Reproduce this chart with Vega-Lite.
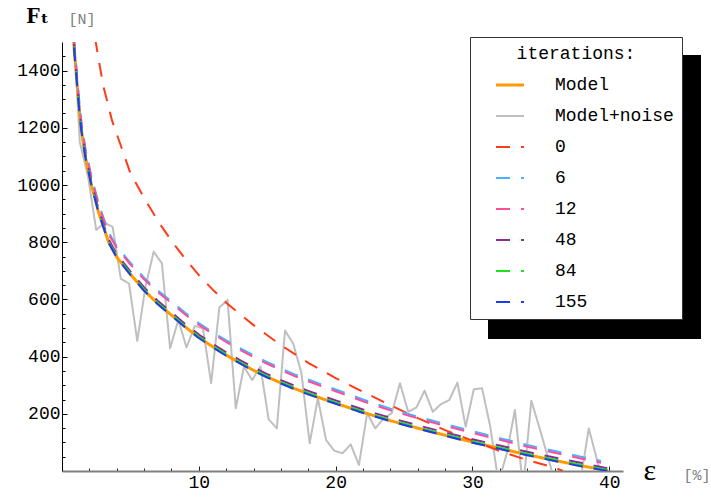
{
  "$schema": "https://vega.github.io/schema/vega-lite/v6.json",
  "width": 561,
  "height": 429,
  "autosize": "none",
  "padding": {"left": 62, "top": 42, "right": 88, "bottom": 27},
  "background": "white",
  "config": {
    "view": {"stroke": null},
    "font": "Liberation Mono, DejaVu Sans Mono, monospace",
    "axis": {"grid": false}
  },
  "datasets": {
    "curves": [
      {"s": "Model+noise", "x": 0.7, "F": 1690}, {"s": "Model+noise", "x": 1.3, "F": 1150}, {"s": "Model+noise", "x": 1.9, "F": 1030}, {"s": "Model+noise", "x": 2.5, "F": 843}, {"s": "Model+noise", "x": 3.1, "F": 868}, {"s": "Model+noise", "x": 3.7, "F": 854}, {"s": "Model+noise", "x": 4.3, "F": 672}, {"s": "Model+noise", "x": 4.9, "F": 655}, {"s": "Model+noise", "x": 5.5, "F": 455}, {"s": "Model+noise", "x": 6.1, "F": 644}, {"s": "Model+noise", "x": 6.7, "F": 767}, {"s": "Model+noise", "x": 7.3, "F": 726}, {"s": "Model+noise", "x": 7.9, "F": 429}, {"s": "Model+noise", "x": 8.5, "F": 528}, {"s": "Model+noise", "x": 9.1, "F": 432}, {"s": "Model+noise", "x": 9.7, "F": 507}, {"s": "Model+noise", "x": 10.3, "F": 499}, {"s": "Model+noise", "x": 10.9, "F": 307}, {"s": "Model+noise", "x": 11.5, "F": 572}, {"s": "Model+noise", "x": 12.1, "F": 598}, {"s": "Model+noise", "x": 12.7, "F": 219}, {"s": "Model+noise", "x": 13.3, "F": 365}, {"s": "Model+noise", "x": 13.9, "F": 318}, {"s": "Model+noise", "x": 14.5, "F": 365}, {"s": "Model+noise", "x": 15.1, "F": 181}, {"s": "Model+noise", "x": 15.7, "F": 149}, {"s": "Model+noise", "x": 16.3, "F": 491}, {"s": "Model+noise", "x": 16.9, "F": 445}, {"s": "Model+noise", "x": 17.5, "F": 342}, {"s": "Model+noise", "x": 18.1, "F": 97}, {"s": "Model+noise", "x": 18.7, "F": 254}, {"s": "Model+noise", "x": 19.3, "F": 108}, {"s": "Model+noise", "x": 19.9, "F": 71}, {"s": "Model+noise", "x": 20.5, "F": 62}, {"s": "Model+noise", "x": 21.1, "F": 93}, {"s": "Model+noise", "x": 21.7, "F": 21}, {"s": "Model+noise", "x": 22.3, "F": 202}, {"s": "Model+noise", "x": 22.9, "F": 149}, {"s": "Model+noise", "x": 23.5, "F": 184}, {"s": "Model+noise", "x": 24.1, "F": 202}, {"s": "Model+noise", "x": 24.7, "F": 307}, {"s": "Model+noise", "x": 25.3, "F": 207}, {"s": "Model+noise", "x": 25.9, "F": 222}, {"s": "Model+noise", "x": 26.5, "F": 281}, {"s": "Model+noise", "x": 27.1, "F": 207}, {"s": "Model+noise", "x": 27.7, "F": 234}, {"s": "Model+noise", "x": 28.3, "F": 248}, {"s": "Model+noise", "x": 28.9, "F": 309}, {"s": "Model+noise", "x": 29.5, "F": 155}, {"s": "Model+noise", "x": 30.1, "F": 286}, {"s": "Model+noise", "x": 30.7, "F": 289}, {"s": "Model+noise", "x": 31.3, "F": 155}, {"s": "Model+noise", "x": 31.9, "F": -40}, {"s": "Model+noise", "x": 32.5, "F": 60}, {"s": "Model+noise", "x": 33.1, "F": 213}, {"s": "Model+noise", "x": 33.7, "F": -60}, {"s": "Model+noise", "x": 34.3, "F": 246}, {"s": "Model+noise", "x": 34.9, "F": 150}, {"s": "Model+noise", "x": 35.5, "F": 50}, {"s": "Model+noise", "x": 36.1, "F": -50}, {"s": "Model+noise", "x": 36.7, "F": -90}, {"s": "Model+noise", "x": 37.3, "F": -70}, {"s": "Model+noise", "x": 37.9, "F": -30}, {"s": "Model+noise", "x": 38.5, "F": 149}, {"s": "Model+noise", "x": 39.1, "F": 39}, {"s": "Model+noise", "x": 39.7, "F": -71},

      {"s": "Model", "x": 0.75, "F": 1570}, {"s": "Model", "x": 0.85, "F": 1500}, {"s": "Model", "x": 0.93, "F": 1450}, {"s": "Model", "x": 1.02, "F": 1400}, {"s": "Model", "x": 1.2, "F": 1295}, {"s": "Model", "x": 1.39, "F": 1200}, {"s": "Model", "x": 1.7, "F": 1100}, {"s": "Model", "x": 2.15, "F": 1000}, {"s": "Model", "x": 2.7, "F": 900}, {"s": "Model", "x": 3.41, "F": 800}, {"s": "Model", "x": 4, "F": 748}, {"s": "Model", "x": 5, "F": 688}, {"s": "Model", "x": 6, "F": 632}, {"s": "Model", "x": 7, "F": 585}, {"s": "Model", "x": 8, "F": 545}, {"s": "Model", "x": 9, "F": 504}, {"s": "Model", "x": 10, "F": 467}, {"s": "Model", "x": 11, "F": 435}, {"s": "Model", "x": 12, "F": 405}, {"s": "Model", "x": 13, "F": 378}, {"s": "Model", "x": 14, "F": 352}, {"s": "Model", "x": 15, "F": 329}, {"s": "Model", "x": 16, "F": 308}, {"s": "Model", "x": 17, "F": 288}, {"s": "Model", "x": 18, "F": 270}, {"s": "Model", "x": 19, "F": 253}, {"s": "Model", "x": 20, "F": 237}, {"s": "Model", "x": 22, "F": 205}, {"s": "Model", "x": 24, "F": 176}, {"s": "Model", "x": 26, "F": 150}, {"s": "Model", "x": 28, "F": 125}, {"s": "Model", "x": 30, "F": 101}, {"s": "Model", "x": 32, "F": 79}, {"s": "Model", "x": 34, "F": 57}, {"s": "Model", "x": 36, "F": 37}, {"s": "Model", "x": 38, "F": 18}, {"s": "Model", "x": 39.9, "F": 1},

      {"s": "0", "x": 2.2, "F": 1600}, {"s": "0", "x": 2.44, "F": 1507}, {"s": "0", "x": 3, "F": 1350}, {"s": "0", "x": 3.66, "F": 1225}, {"s": "0", "x": 4.5, "F": 1110}, {"s": "0", "x": 5, "F": 1041}, {"s": "0", "x": 6, "F": 955}, {"s": "0", "x": 7, "F": 875}, {"s": "0", "x": 8, "F": 805}, {"s": "0", "x": 9, "F": 742}, {"s": "0", "x": 10, "F": 685}, {"s": "0", "x": 11, "F": 635}, {"s": "0", "x": 12, "F": 588}, {"s": "0", "x": 14, "F": 510}, {"s": "0", "x": 16, "F": 440}, {"s": "0", "x": 18, "F": 378}, {"s": "0", "x": 20, "F": 325}, {"s": "0", "x": 22, "F": 277}, {"s": "0", "x": 24, "F": 230}, {"s": "0", "x": 26, "F": 185}, {"s": "0", "x": 28, "F": 143}, {"s": "0", "x": 30, "F": 106}, {"s": "0", "x": 32, "F": 70}, {"s": "0", "x": 34, "F": 38}, {"s": "0", "x": 36, "F": 12}, {"s": "0", "x": 36.6, "F": 0},

      {"s": "6", "x": 0.75, "F": 1600}, {"s": "6", "x": 0.85, "F": 1530}, {"s": "6", "x": 0.93, "F": 1480}, {"s": "6", "x": 1.02, "F": 1430}, {"s": "6", "x": 1.2, "F": 1326}, {"s": "6", "x": 1.39, "F": 1231}, {"s": "6", "x": 1.7, "F": 1131}, {"s": "6", "x": 2.15, "F": 1031}, {"s": "6", "x": 2.7, "F": 932}, {"s": "6", "x": 3.41, "F": 834}, {"s": "6", "x": 4, "F": 786}, {"s": "6", "x": 5, "F": 728}, {"s": "6", "x": 6, "F": 676}, {"s": "6", "x": 7, "F": 631}, {"s": "6", "x": 8, "F": 593}, {"s": "6", "x": 9, "F": 553}, {"s": "6", "x": 10, "F": 517}, {"s": "6", "x": 11, "F": 486}, {"s": "6", "x": 12, "F": 457}, {"s": "6", "x": 13, "F": 430}, {"s": "6", "x": 14, "F": 404}, {"s": "6", "x": 15, "F": 381}, {"s": "6", "x": 16, "F": 359}, {"s": "6", "x": 17, "F": 338}, {"s": "6", "x": 18, "F": 320}, {"s": "6", "x": 19, "F": 302}, {"s": "6", "x": 20, "F": 285}, {"s": "6", "x": 22, "F": 250}, {"s": "6", "x": 24, "F": 218}, {"s": "6", "x": 26, "F": 190}, {"s": "6", "x": 28, "F": 164}, {"s": "6", "x": 30, "F": 139}, {"s": "6", "x": 32, "F": 115}, {"s": "6", "x": 34, "F": 91}, {"s": "6", "x": 36, "F": 70}, {"s": "6", "x": 38, "F": 49}, {"s": "6", "x": 39.4, "F": 35},

      {"s": "12", "x": 0.75, "F": 1594}, {"s": "12", "x": 0.85, "F": 1524}, {"s": "12", "x": 0.93, "F": 1474}, {"s": "12", "x": 1.02, "F": 1424}, {"s": "12", "x": 1.2, "F": 1320}, {"s": "12", "x": 1.39, "F": 1225}, {"s": "12", "x": 1.7, "F": 1125}, {"s": "12", "x": 2.15, "F": 1025}, {"s": "12", "x": 2.7, "F": 926}, {"s": "12", "x": 3.41, "F": 828}, {"s": "12", "x": 4, "F": 780}, {"s": "12", "x": 5, "F": 722}, {"s": "12", "x": 6, "F": 670}, {"s": "12", "x": 7, "F": 625}, {"s": "12", "x": 8, "F": 587}, {"s": "12", "x": 9, "F": 547}, {"s": "12", "x": 10, "F": 511}, {"s": "12", "x": 11, "F": 480}, {"s": "12", "x": 12, "F": 451}, {"s": "12", "x": 13, "F": 424}, {"s": "12", "x": 14, "F": 398}, {"s": "12", "x": 15, "F": 375}, {"s": "12", "x": 16, "F": 353}, {"s": "12", "x": 17, "F": 332}, {"s": "12", "x": 18, "F": 314}, {"s": "12", "x": 19, "F": 296}, {"s": "12", "x": 20, "F": 279}, {"s": "12", "x": 22, "F": 244}, {"s": "12", "x": 24, "F": 212}, {"s": "12", "x": 26, "F": 184}, {"s": "12", "x": 28, "F": 158}, {"s": "12", "x": 30, "F": 133}, {"s": "12", "x": 32, "F": 109}, {"s": "12", "x": 34, "F": 85}, {"s": "12", "x": 36, "F": 64}, {"s": "12", "x": 38, "F": 43}, {"s": "12", "x": 39.4, "F": 29},

      {"s": "48", "x": 0.75, "F": 1580}, {"s": "48", "x": 0.85, "F": 1510}, {"s": "48", "x": 0.93, "F": 1460}, {"s": "48", "x": 1.02, "F": 1410}, {"s": "48", "x": 1.2, "F": 1305}, {"s": "48", "x": 1.39, "F": 1210}, {"s": "48", "x": 1.7, "F": 1110}, {"s": "48", "x": 2.15, "F": 1010}, {"s": "48", "x": 2.7, "F": 910}, {"s": "48", "x": 3.41, "F": 810}, {"s": "48", "x": 4, "F": 758}, {"s": "48", "x": 5, "F": 698}, {"s": "48", "x": 6, "F": 642}, {"s": "48", "x": 7, "F": 595}, {"s": "48", "x": 8, "F": 555}, {"s": "48", "x": 9, "F": 514}, {"s": "48", "x": 10, "F": 477}, {"s": "48", "x": 11, "F": 445}, {"s": "48", "x": 12, "F": 415}, {"s": "48", "x": 13, "F": 388}, {"s": "48", "x": 14, "F": 362}, {"s": "48", "x": 15, "F": 339}, {"s": "48", "x": 16, "F": 318}, {"s": "48", "x": 17, "F": 298}, {"s": "48", "x": 18, "F": 280}, {"s": "48", "x": 19, "F": 263}, {"s": "48", "x": 20, "F": 247}, {"s": "48", "x": 22, "F": 215}, {"s": "48", "x": 24, "F": 186}, {"s": "48", "x": 26, "F": 160}, {"s": "48", "x": 28, "F": 135}, {"s": "48", "x": 30, "F": 111}, {"s": "48", "x": 32, "F": 89}, {"s": "48", "x": 34, "F": 67}, {"s": "48", "x": 36, "F": 47}, {"s": "48", "x": 38, "F": 28}, {"s": "48", "x": 39.9, "F": 9},

      {"s": "84", "x": 0.75, "F": 1573}, {"s": "84", "x": 0.85, "F": 1503}, {"s": "84", "x": 0.93, "F": 1453}, {"s": "84", "x": 1.02, "F": 1403}, {"s": "84", "x": 1.2, "F": 1298}, {"s": "84", "x": 1.39, "F": 1203}, {"s": "84", "x": 1.7, "F": 1103}, {"s": "84", "x": 2.15, "F": 1003}, {"s": "84", "x": 2.7, "F": 903}, {"s": "84", "x": 3.41, "F": 803}, {"s": "84", "x": 4, "F": 751}, {"s": "84", "x": 5, "F": 691}, {"s": "84", "x": 6, "F": 635}, {"s": "84", "x": 7, "F": 588}, {"s": "84", "x": 8, "F": 548}, {"s": "84", "x": 9, "F": 507}, {"s": "84", "x": 10, "F": 470}, {"s": "84", "x": 11, "F": 438}, {"s": "84", "x": 12, "F": 408}, {"s": "84", "x": 13, "F": 381}, {"s": "84", "x": 14, "F": 355}, {"s": "84", "x": 15, "F": 332}, {"s": "84", "x": 16, "F": 311}, {"s": "84", "x": 17, "F": 291}, {"s": "84", "x": 18, "F": 273}, {"s": "84", "x": 19, "F": 256}, {"s": "84", "x": 20, "F": 240}, {"s": "84", "x": 22, "F": 208}, {"s": "84", "x": 24, "F": 179}, {"s": "84", "x": 26, "F": 153}, {"s": "84", "x": 28, "F": 128}, {"s": "84", "x": 30, "F": 104}, {"s": "84", "x": 32, "F": 82}, {"s": "84", "x": 34, "F": 60}, {"s": "84", "x": 36, "F": 40}, {"s": "84", "x": 38, "F": 21}, {"s": "84", "x": 39.9, "F": 3},

      {"s": "155", "x": 0.75, "F": 1568}, {"s": "155", "x": 0.85, "F": 1498}, {"s": "155", "x": 0.93, "F": 1448}, {"s": "155", "x": 1.02, "F": 1398}, {"s": "155", "x": 1.2, "F": 1293}, {"s": "155", "x": 1.39, "F": 1198}, {"s": "155", "x": 1.7, "F": 1098}, {"s": "155", "x": 2.15, "F": 998}, {"s": "155", "x": 2.7, "F": 898}, {"s": "155", "x": 3.41, "F": 798}, {"s": "155", "x": 4, "F": 746}, {"s": "155", "x": 5, "F": 686}, {"s": "155", "x": 6, "F": 630}, {"s": "155", "x": 7, "F": 583}, {"s": "155", "x": 8, "F": 543}, {"s": "155", "x": 9, "F": 502}, {"s": "155", "x": 10, "F": 465}, {"s": "155", "x": 11, "F": 433}, {"s": "155", "x": 12, "F": 403}, {"s": "155", "x": 13, "F": 376}, {"s": "155", "x": 14, "F": 350}, {"s": "155", "x": 15, "F": 327}, {"s": "155", "x": 16, "F": 306}, {"s": "155", "x": 17, "F": 286}, {"s": "155", "x": 18, "F": 268}, {"s": "155", "x": 19, "F": 251}, {"s": "155", "x": 20, "F": 235}, {"s": "155", "x": 22, "F": 203}, {"s": "155", "x": 24, "F": 174}, {"s": "155", "x": 26, "F": 148}, {"s": "155", "x": 28, "F": 123}, {"s": "155", "x": 30, "F": 99}, {"s": "155", "x": 32, "F": 77}, {"s": "155", "x": 34, "F": 55}, {"s": "155", "x": 36, "F": 35}, {"s": "155", "x": 38, "F": 16}, {"s": "155", "x": 39.9, "F": 0}
    ]
  },
  "data": {"name": "curves"},
  "resolve": {"axis": {"x": "independent", "y": "independent"}},
  "layer": [
    {
      "mark": {"type": "point", "filled": true, "fillOpacity": 0, "strokeOpacity": 0, "clip": true},
      "encoding": {
        "x": {
          "field": "x", "type": "quantitative",
          "scale": {"domain": [0, 41], "nice": false, "zero": false},
          "axis": {"orient": "top", "domain": false, "ticks": false, "labels": false, "grid": false,
            "title": "[N]", "titleX": 6, "titleY": -19, "titleAlign": "left", "titleBaseline": "alphabetic", "titleAngle": 0,
            "titleFont": "Liberation Mono, DejaVu Sans Mono, monospace", "titleFontSize": 15, "titleFontWeight": "normal", "titleColor": "#808080"}
        },
        "y": {
          "field": "F", "type": "quantitative",
          "scale": {"domain": [0, 1500], "nice": false, "zero": false},
          "axis": {"orient": "right", "domain": false, "ticks": false, "labels": false, "grid": false,
            "title": "[%]", "titleX": 60, "titleY": 437, "titleAlign": "left", "titleBaseline": "alphabetic", "titleAngle": 0,
            "titleFont": "Liberation Mono, DejaVu Sans Mono, monospace", "titleFontSize": 15, "titleFontWeight": "normal", "titleColor": "#808080"}
        },
        "fill": {
          "field": "F", "type": "quantitative",
          "scale": {"range": ["black", "black"]},
          "legend": {"orient": "none", "legendX": 426, "legendY": 13, "title": null, "direction": "vertical",
            "gradientLength": 284, "gradientThickness": 213, "gradientStrokeWidth": 0,
            "labelExpr": "''", "labelOffset": -150, "labelColor": "black", "padding": 0, "fillColor": "black", "zindex": 1}
        }
      }
    },
    {
      "mark": {"type": "line", "clip": true, "strokeJoin": "round"},
      "encoding": {
        "x": {
          "field": "x", "type": "quantitative",
          "scale": {"domain": [0, 41], "nice": false, "zero": false},
          "axis": {
            "orient": "bottom",
            "values": [2, 4, 6, 8, 10, 12, 14, 16, 18, 20, 22, 24, 26, 28, 30, 32, 34, 36, 38, 40],
            "labelExpr": "datum.value % 10 === 0 ? datum.label : ''",
            "format": "d",
            "domainColor": "#808080", "domainWidth": 2,
            "tickColor": "#222222", "tickWidth": 1,
            "tickSize": {"condition": {"test": "datum.value % 10 === 0", "value": -5}, "value": -3},
            "labelFont": "Liberation Mono, DejaVu Sans Mono, monospace", "labelFontSize": 18, "labelColor": "black", "labelPadding": 7,
            "title": "ε", "titleX": 581, "titleY": 8, "titleAlign": "left", "titleBaseline": "alphabetic",
            "titleFont": "Liberation Serif, DejaVu Serif, serif", "titleFontSize": 30, "titleFontWeight": "normal", "titleColor": "black"
          }
        },
        "y": {
          "field": "F", "type": "quantitative",
          "scale": {"domain": [0, 1500], "nice": false, "zero": false},
          "axis": {
            "orient": "left",
            "values": [50, 100, 150, 200, 250, 300, 350, 400, 450, 500, 550, 600, 650, 700, 750, 800, 850, 900, 950, 1000, 1050, 1100, 1150, 1200, 1250, 1300, 1350, 1400, 1450],
            "labelExpr": "datum.value % 200 === 0 ? datum.label : ''",
            "format": "d",
            "domainColor": "black", "domainWidth": 1,
            "tickColor": "black", "tickWidth": 1,
            "tickSize": {"condition": {"test": "datum.value % 200 === 0", "value": -5}, "value": -3},
            "labelFont": "Liberation Mono, DejaVu Sans Mono, monospace", "labelFontSize": 18, "labelColor": "black", "labelPadding": 7,
            "title": "Fₜ", "titleX": -36, "titleY": -20, "titleAlign": "left", "titleBaseline": "alphabetic", "titleAngle": 0,
            "titleFont": "Liberation Serif, DejaVu Serif, serif", "titleFontSize": 23, "titleFontWeight": "bold", "titleColor": "black"
          }
        },
        "color": {
          "field": "s", "type": "nominal",
          "scale": {"domain": ["Model", "Model+noise", "0", "6", "12", "48", "84", "155"],
            "range": ["#FF9A00", "#BFBFBF", "#FF3C17", "#47B2FF", "#FF4D9E", "#8B2A93", "#1FE01F", "#1C3CF2"]},
          "legend": {"orient": "none", "legendX": 408, "legendY": -5, "title": "iterations:",
            "titleFont": "Liberation Mono, DejaVu Sans Mono, monospace", "titleFontSize": 18, "titleFontWeight": "normal", "titleColor": "black",
            "titleAnchor": "middle", "titlePadding": 13,
            "labelFont": "Liberation Mono, DejaVu Sans Mono, monospace", "labelFontSize": 18, "labelColor": "black",
            "symbolType": "stroke", "symbolSize": 784, "symbolOffset": 23, "labelOffset": 36, "rowPadding": 13,
            "padding": 8, "strokeColor": "#333333", "fillColor": "white", "zindex": 2,
            "encode": {"symbols": {"update": {"strokeWidth": {"signal": "datum.value === 'Model' ? 3 : 2"}}}}}
        },
        "strokeDash": {
          "field": "s", "type": "nominal",
          "scale": {"domain": ["Model", "Model+noise", "0", "6", "12", "48", "84", "155"],
            "range": [[1, 0], [1, 0], [14, 11], [14, 11], [14, 11], [14, 11], [14, 11], [14, 11]]},
          "legend": {"orient": "none", "legendX": 408, "legendY": -5, "title": "iterations:",
            "titleFont": "Liberation Mono, DejaVu Sans Mono, monospace", "titleFontSize": 18, "titleFontWeight": "normal", "titleColor": "black",
            "titleAnchor": "middle", "titlePadding": 13,
            "labelFont": "Liberation Mono, DejaVu Sans Mono, monospace", "labelFontSize": 18, "labelColor": "black",
            "symbolType": "stroke", "symbolSize": 784, "symbolOffset": 23, "labelOffset": 36, "rowPadding": 13,
            "padding": 8, "strokeColor": "#333333", "fillColor": "white", "zindex": 2,
            "encode": {"symbols": {"update": {"strokeWidth": {"signal": "datum.value === 'Model' ? 3 : 2"}}}}}
        },
        "strokeWidth": {"condition": {"test": "datum.s === 'Model'", "value": 3}, "value": 2},
        "order": {"field": "x", "type": "quantitative"}
      }
    }
  ]
}
